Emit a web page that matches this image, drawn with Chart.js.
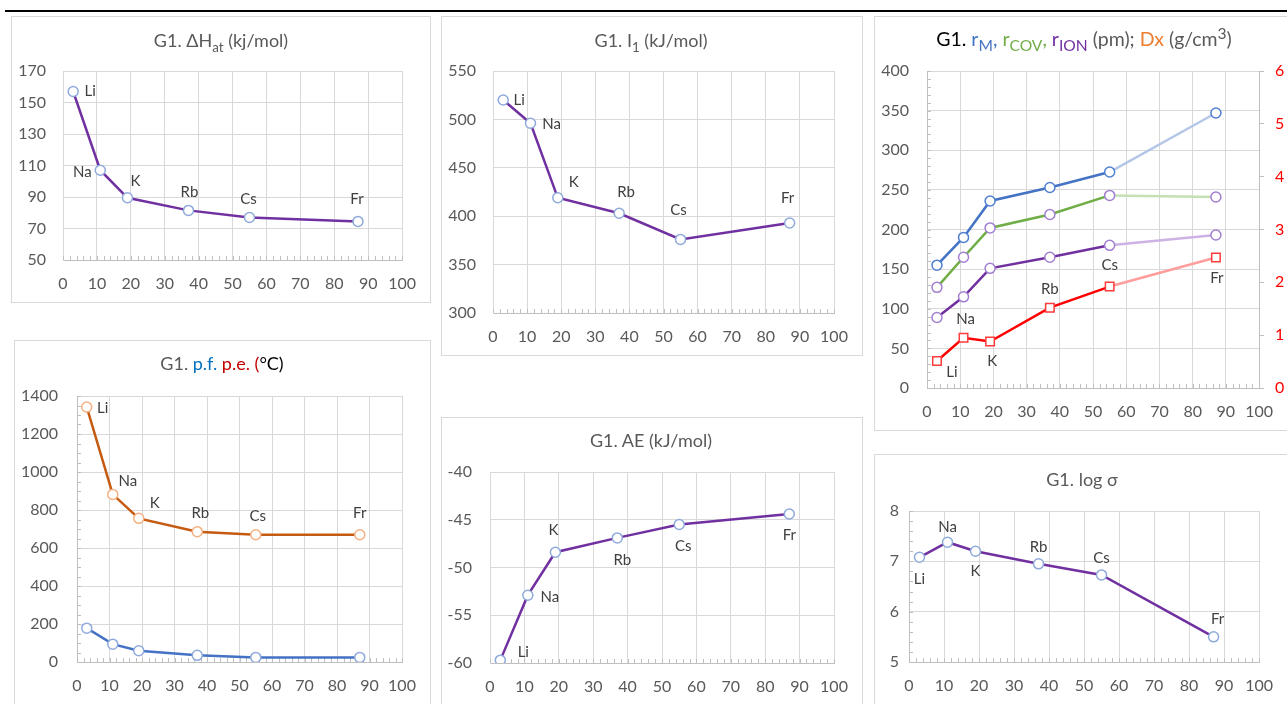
<!DOCTYPE html>
<html>
<head>
<meta charset="utf-8">
<title>Grupo 1 - propiedades</title>
<script src="https://cdn.jsdelivr.net/npm/chart.js@4.4.1/dist/chart.umd.min.js"></script>
<style>
    html, body { margin: 0; padding: 0; background: #fff; width: 1287px; height: 704px; overflow: hidden; font-family: Lato, "Open Sans", sans-serif; }
    #linea { position: absolute; left: 5px; top: 10px; width: 1282px; height: 2px; background: #000; }
    .caja { position: absolute; border: 1px solid #d9d9d9; box-sizing: border-box; }
    canvas { position: absolute; }
    .titulo { position: absolute; height: 24px; line-height: 24px; text-align: center; font-size: 18px; color: #595959; white-space: nowrap; }
    sub, sup { font-size: 74%; line-height: 0; }
    .grande { font-size: 19.5px; }
    .grande sub, .grande sup { font-size: 80%; }
</style>
</head>
<body>
<div id="linea"></div>

<!-- cajas de cada grafico -->
<div class="caja" style="left:11px;top:16px;width:420px;height:287px"></div>
<div class="caja" style="left:441px;top:16px;width:422px;height:340px"></div>
<div class="caja" style="left:874px;top:16px;width:430px;height:415px"></div>
<div class="caja" style="left:14px;top:340px;width:417px;height:400px"></div>
<div class="caja" style="left:441px;top:417px;width:422px;height:320px"></div>
<div class="caja" style="left:874px;top:454px;width:430px;height:300px"></div>

<canvas id="g1" width="419" height="286" style="left:11px;top:16px"></canvas>
<canvas id="g2" width="421" height="339" style="left:441px;top:16px"></canvas>
<canvas id="g3" width="413" height="414" style="left:874px;top:16px"></canvas>
<canvas id="g4" width="416" height="364" style="left:14px;top:340px"></canvas>
<canvas id="g5" width="421" height="287" style="left:441px;top:417px"></canvas>
<canvas id="g6" width="413" height="250" style="left:874px;top:454px"></canvas>

<!-- titulos (texto real, con subindices) -->
<div class="titulo" style="left:11px;width:420px;top:28px">G1. &Delta;H<sub>at</sub> (kj/mol)</div>
<div class="titulo" style="left:441px;width:420px;top:28px">G1. I<sub>1</sub> (kJ/mol)</div>
<div class="titulo grande" style="left:924px;width:320px;top:27px"><span style="color:#000">G1.</span> <span style="color:#4472c4">r<sub>M</sub>,</span> <span style="color:#70ad47">r<sub>COV</sub>,</span> <span style="color:#7030a0">r<sub>ION</sub></span> (pm); <span style="color:#ed7d31">Dx</span> (g/cm<sup>3</sup>)</div>
<div class="titulo" style="left:14px;width:416px;top:351px">G1. <span style="color:#0070c0">p.f.</span> <span style="color:#c00000">p.e.</span> <span style="color:#c00000">(</span><span style="color:#000">&deg;C)</span></div>
<div class="titulo" style="left:441px;width:420px;top:428px">G1. AE (kJ/mol)</div>
<div class="titulo" style="left:874px;width:416px;top:467px">G1. log &sigma;</div>

<script>
    // Datos del grupo 1
    var elementos = ['Li', 'Na', 'K', 'Rb', 'Cs', 'Fr'];
    var numeroAtomico = [3, 11, 19, 37, 55, 87];

    var entalpiaAtom = [157, 107, 89.5, 81.5, 77, 74.5];          // kJ/mol
    var ionizacion1 = [520, 496, 419, 403, 376, 393];              // kJ/mol
    var radioMetalico = [155, 190, 236, 253, 272.5, 347];          // pm
    var radioCovalente = [127, 165, 202, 219, 243, 241];           // pm
    var radioIonico = [89, 115, 151, 165, 180, 193];               // pm
    var densidad = [0.51, 0.95, 0.88, 1.52, 1.92, 2.47];           // g/cm3
    var puntoFusion = [178, 94, 59, 35, 24, 24];                   // C
    var puntoEbullicion = [1342, 882, 756, 686, 670, 670];         // C
    var afinidadElectronica = [-59.7, -52.9, -48.4, -46.9, -45.5, -44.4];
    var logConductividad = [7.08, 7.38, 7.2, 6.95, 6.73, 5.5];

    // Escalas: [min, max, paso]
    var rangoX = [0, 100, 10];
    var rangoEntalpia = [50, 170, 20];
    var rangoIonizacion = [300, 550, 50];
    var rangoRadios = [0, 400, 50];
    var rangoDensidad = [0, 6, 1];
    var rangoTemperatura = [0, 1400, 200];
    var rangoAfinidad = [-60, -40, 5];
    var rangoLog = [5, 8, 1];

    var FUENTE = 'Lato, "Open Sans", sans-serif';
    Chart.defaults.font.family = FUENTE;
    Chart.defaults.font.size = 16;
    Chart.defaults.color = '#595959';

    // Numeros sin separador de miles (como Excel)
    function sinMiles(v) { return String(v); }

    // Convierte la lista de valores en puntos {x, y}
    function puntos(ys) {
        return numeroAtomico.map(function (x, i) { return {x: x, y: ys[i]}; });
    }

    // Marcas menores de los ejes, como en Excel
    var marcasMenores = {
        id: 'marcasMenores',
        beforeDatasetsDraw: function (chart, args, opts) {
            var ctx = chart.ctx, area = chart.chartArea;
            ctx.save();
            ctx.strokeStyle = '#bfbfbf';
            ctx.lineWidth = 1;
            ctx.beginPath();
            if (opts.x) {
                var xs = chart.scales.x;
                for (var v = xs.min; v <= xs.max + 1e-9; v += opts.x) {
                    var px = Math.round(xs.getPixelForValue(v)) + 0.5;
                    ctx.moveTo(px, area.bottom);
                    ctx.lineTo(px, area.bottom - 4);
                }
            }
            if (opts.y) {
                var ys = chart.scales.y;
                for (var w = ys.min; w <= ys.max + 1e-9; w += opts.y) {
                    var py = Math.round(ys.getPixelForValue(w)) + 0.5;
                    ctx.moveTo(area.left, py);
                    ctx.lineTo(area.left + 4, py);
                }
            }
            ctx.stroke();
            ctx.restore();
        }
    };

    // Etiquetas con el simbolo de cada elemento junto a su punto
    var etiquetas = {
        id: 'etiquetas',
        afterDatasetsDraw: function (chart, args, opts) {
            if (!opts.desplazamientos) return;
            var meta = chart.getDatasetMeta(opts.serie || 0);
            var ctx = chart.ctx;
            ctx.save();
            ctx.font = '15px ' + FUENTE;
            ctx.fillStyle = '#404040';
            ctx.textAlign = 'center';
            ctx.textBaseline = 'middle';
            meta.data.forEach(function (pt, i) {
                var d = opts.desplazamientos[i];
                ctx.fillText(elementos[i], pt.x + d[0], pt.y + d[1]);
            });
            ctx.restore();
        }
    };
    Chart.register(marcasMenores, etiquetas);

    // Serie tipo Excel: linea con marcadores huecos
    function serie(ys, color, colorMarca, extra) {
        var s = {
            data: puntos(ys),
            showLine: true,
            borderColor: color,
            borderWidth: 2.5,
            pointRadius: 5,
            pointBorderWidth: 1.5,
            pointBorderColor: colorMarca,
            pointBackgroundColor: '#fff',
            tension: 0
        };
        for (var k in extra) s[k] = extra[k];
        return s;
    }

    // Opciones comunes; caja = {top, right, ancho eje y, alto eje x}
    function opciones(rangoY, caja, ejeYExtra, plugins) {
        return {
            responsive: false,
            animation: false,
            devicePixelRatio: 1,
            layout: {padding: {top: caja.top, right: caja.right, left: 0, bottom: 0}},
            plugins: Object.assign({legend: {display: false}, tooltip: {enabled: false}}, plugins),
            scales: Object.assign({
                x: {
                    type: 'linear',
                    min: rangoX[0], max: rangoX[1],
                    ticks: {stepSize: rangoX[2], autoSkip: false, maxRotation: 0, padding: 14, callback: sinMiles},
                    grid: {color: '#d9d9d9', drawTicks: false},
                    border: {color: '#bfbfbf'},
                    afterFit: function (s) { s.height = caja.xh; }
                },
                y: {
                    min: rangoY[0], max: rangoY[1],
                    ticks: {stepSize: rangoY[2], padding: caja.pad || 17, callback: sinMiles},
                    grid: {color: '#d9d9d9', drawTicks: false},
                    border: {color: caja.borde || '#d9d9d9'},
                    afterFit: function (s) { s.width = caja.yw; }
                }
            }, ejeYExtra)
        };
    }

    var MORADO = '#7030a0', MARCA = '#8eaadb';

    // G1. Entalpia de atomizacion
    new Chart(document.getElementById('g1'), {
        type: 'scatter',
        data: {datasets: [serie(entalpiaAtom, MORADO, MARCA)]},
        options: opciones(rangoEntalpia, {top: 55, right: 27, yw: 52, xh: 42}, {}, {
            marcasMenores: {x: 2},
            etiquetas: {desplazamientos: [[17, 0], [-18, 2], [8, -17], [1, -18], [-1, -18], [-1, -22]]}
        })
    });

    // G1. Primera energia de ionizacion
    new Chart(document.getElementById('g2'), {
        type: 'scatter',
        data: {datasets: [serie(ionizacion1, MORADO, MARCA)]},
        options: opciones(rangoIonizacion, {top: 55, right: 28, yw: 52, xh: 42}, {}, {
            marcasMenores: {x: 2},
            etiquetas: {desplazamientos: [[16, 0], [21, 1], [16, -16], [7, -21], [-2, -29], [-2, -25]]}
        })
    });

    // G1. Radios y densidad (dos ejes)
    function tramoClaro(claro) {
        return {borderColor: function (c) { return c.p1DataIndex === 5 ? claro : undefined; }};
    }
    new Chart(document.getElementById('g3'), {
        type: 'scatter',
        data: {datasets: [
            serie(densidad, '#ff0000', '#ff3b3b', {yAxisID: 'y1', pointStyle: 'rect', pointRadius: 6, segment: tramoClaro('#ff9c9c')}),
            serie(radioMetalico, '#4472c4', '#4f7fd0', {segment: tramoClaro('#b4c7e7')}),
            serie(radioCovalente, '#70ad47', '#a27fd0', {segment: tramoClaro('#c5e0b4')}),
            serie(radioIonico, MORADO, '#a27fd0', {segment: tramoClaro('#cdb3e3')})
        ]},
        options: opciones(rangoRadios, {top: 55, right: 0, yw: 53, xh: 42, borde: '#bfbfbf', pad: 18}, {
            y1: {
                position: 'right',
                min: rangoDensidad[0], max: rangoDensidad[1],
                ticks: {stepSize: rangoDensidad[2], color: '#ff0000', padding: 11, callback: sinMiles},
                grid: {drawOnChartArea: false, drawTicks: true, tickLength: 5, color: '#bfbfbf'},
                border: {color: '#bfbfbf'},
                afterFit: function (s) { s.width = 26; }
            }
        }, {
            marcasMenores: {x: 2, y: 10},
            etiquetas: {serie: 0, desplazamientos: [[15, 11], [2, -19], [2, 20], [0, -19], [0, -21], [1, 21]]}
        })
    });

    // G1. Puntos de fusion y ebullicion
    new Chart(document.getElementById('g4'), {
        type: 'scatter',
        data: {datasets: [
            serie(puntoEbullicion, '#c55a11', '#f4b183'),
            serie(puntoFusion, '#4472c4', '#8faadc')
        ]},
        options: opciones(rangoTemperatura, {top: 56, right: 28, yw: 63, xh: 42, borde: '#bfbfbf', pad: 19}, {}, {
            marcasMenores: {x: 2, y: 50},
            etiquetas: {serie: 0, desplazamientos: [[16, 1], [15, -13], [16, -15], [3, -19], [2, -19], [0, -22]]}
        })
    });

    // G1. Afinidad electronica
    new Chart(document.getElementById('g5'), {
        type: 'scatter',
        data: {datasets: [serie(afinidadElectronica, MORADO, MARCA)]},
        options: opciones(rangoAfinidad, {top: 55, right: 28, yw: 49, xh: 41, pad: 18}, {}, {
            marcasMenores: {x: 2},
            etiquetas: {desplazamientos: [[23, -8], [22, 2], [-2, -22], [5, 22], [4, 22], [0, 21]]}
        })
    });

    // G1. Logaritmo de la conductividad
    new Chart(document.getElementById('g6'), {
        type: 'scatter',
        data: {datasets: [serie(logConductividad, MORADO, MARCA)]},
        options: opciones(rangoLog, {top: 57, right: 23, yw: 35, xh: 42, borde: '#bfbfbf', pad: 10}, {}, {
            marcasMenores: {x: 2, y: 0.2},
            etiquetas: {desplazamientos: [[0, 22], [0, -15], [0, 20], [0, -17], [0, -17], [4, -18]]}
        })
    });
</script>
</body>
</html>
